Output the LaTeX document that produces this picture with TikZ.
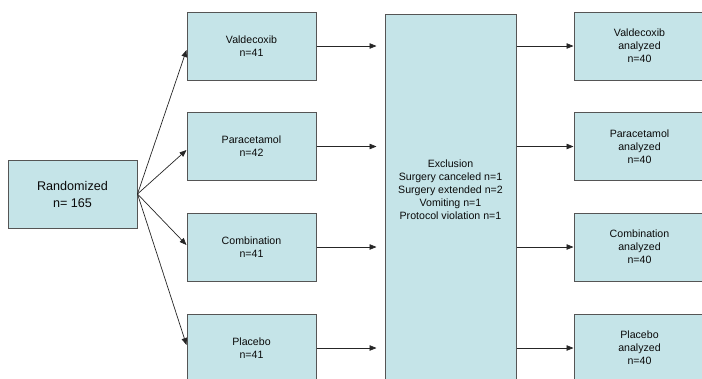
\documentclass[tikz,border=0pt]{standalone}
\usepackage{fontspec}
\setmainfont{Liberation Sans}
\usetikzlibrary{arrows.meta,calc}
\definecolor{boxfill}{RGB}{197,228,232}
\definecolor{boxline}{RGB}{85,85,85}
\definecolor{txt}{RGB}{10,10,10}
\tikzset{
  box/.style={draw=boxline,line width=1pt,fill=boxfill,minimum width=129pt,minimum height=68pt,inner sep=0pt,align=center,text=txt,font=\fontsize{10.6}{13}\selectfont},
  conn/.style={draw=black!85,line width=0.7pt,-{Triangle[length=7pt,width=5.5pt]}},
}
\begin{document}
\begin{tikzpicture}[x=1pt,y=-1pt]
\useasboundingbox (0,0) rectangle (702,378);
\clip (0,0) rectangle (702,378);
% left
\node[box,font=\fontsize{12.6}{17}\selectfont] (r) at (72.5,194) {Randomized\\n= 165};
% treatment groups
\node[box] (v) at (251.5,46) {Valdecoxib\\n=41};
\node[box] (p) at (251.5,146.5) {Paracetamol\\n=42};
\node[box] (c) at (251.5,247) {Combination\\n=41};
\node[box] (pl) at (251.5,348) {Placebo\\n=41};
% exclusion
\node[box,minimum width=131pt,minimum height=396pt] (ex) at (450.5,212) {};
\node[align=center,text=txt,font=\fontsize{10.6}{13}\selectfont,inner sep=0pt] (exl) at (450.5,190) {Exclusion\\Surgery canceled n=1\\Surgery extended n=2\\Vomiting n=1\\Protocol violation n=1};
% analyzed
\node[box,minimum width=131pt] (va) at (639.5,46) {Valdecoxib\\analyzed\\n=40};
\node[box,minimum width=131pt] (pa) at (639.5,146.5) {Paracetamol\\analyzed\\n=40};
\node[box,minimum width=131pt] (ca) at (639.5,247) {Combination\\analyzed\\n=40};
\node[box,minimum width=131pt] (pla) at (639.5,348) {Placebo\\analyzed\\n=40};
% fan-out arrows
\draw[conn] (r.east) -- ([yshift=-4pt]v.west);
\draw[conn] (r.east) -- ([yshift=-3.5pt]p.west);
\draw[conn] (r.east) -- ([yshift=2pt]c.west);
\draw[conn] (r.east) -- ([yshift=3pt]pl.west);
% to exclusion
\foreach \n in {v,p,c,pl}{
  \draw[conn] (\n.east) -- ($(\n.east -| ex.west)+(-8,0)$);
}
% from exclusion to analyzed
\foreach \n in {va,pa,ca,pla}{
  \draw[conn] (\n.west -| ex.east) -- (\n.west);
}
\end{tikzpicture}
\end{document}
